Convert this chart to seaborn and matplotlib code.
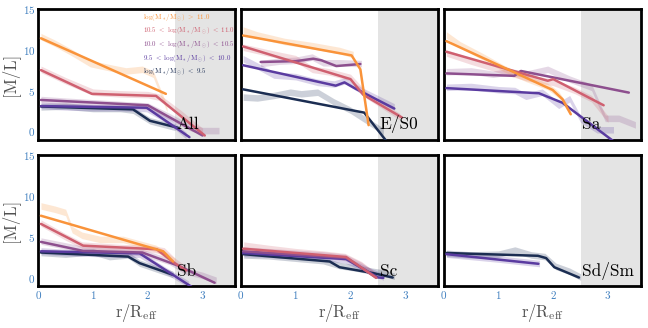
import numpy as np
import pandas as pd
import matplotlib
matplotlib.use("Agg")
from matplotlib import pyplot as plt
import seaborn as sns

sns.set_theme(style="white")
plt.rcParams["font.family"] = ["cmr10", "DejaVu Serif"]
plt.rcParams["mathtext.fontset"] = "cm"
plt.rcParams["axes.formatter.use_mathtext"] = True

# mass bins: 0 >11.0, 1 10.5-11.0, 2 10.0-10.5, 3 9.5-10.0, 4 <9.5
bin_labels = [r"$\mathrm{log(M_*/M_\odot)\ >\ 11.0}$",
              r"$\mathrm{10.5\ <\ log(M_*/M_\odot)\ <\ 11.0}$",
              r"$\mathrm{10.0\ <\ log(M_*/M_\odot)\ <\ 10.5}$",
              r"$\mathrm{9.5\ <\ log(M_*/M_\odot)\ <\ 10.0}$",
              r"$\mathrm{log(M_*/M_\odot)\ <\ 9.5}$"]
colors = ["#f9933a", "#cf6070", "#8d4f8e", "#5a3ba0", "#1b2d52"]

panel_names = ["All", "E/S0", "Sa", "Sb", "Sc", "Sd/Sm"]

# fitted profiles {bin: (r, M/L)}
fit_all = {0: ([0.05, 2.33], [11.4, 4.6]),
           1: ([0.05, 0.98, 2.15, 3.04], [7.5, 4.6, 4.35, -0.5]),
           2: ([0.05, 2.0, 3.0], [3.85, 3.2, -0.5]),
           3: ([0.05, 1.98, 2.76], [3.1, 2.9, -0.7]),
           4: ([0.05, 1.73, 2.04, 2.55], [3.05, 2.7, 1.3, 0.45])}
fit_es0 = {0: ([0.04, 2.02, 2.18, 2.33], [11.74, 9.3, 7.6, 0.77]),
           1: ([0.04, 2.0, 2.23, 2.94], [10.4, 6.4, 4.5, 1.7]),
           2: ([0.36, 1.0, 1.32, 1.47, 1.74, 2.18], [8.5, 8.6, 8.9, 8.7, 8.0, 8.25]),
           3: ([0.04, 1.73, 1.89, 2.1, 2.8], [8.1, 5.6, 6.0, 5.2, 2.8]),
           4: ([0.04, 2.25, 2.75], [5.15, 2.3, -2.0])}
fit_sa = {0: ([0.05, 1.99, 2.17, 2.32], [11.05, 5.07, 3.94, 2.1]),
          1: ([0.05, 1.9, 2.0, 2.92], [9.75, 6.2, 6.4, 3.2]),
          2: ([0.05, 1.29, 1.41, 3.38], [7.1, 6.8, 7.4, 4.75]),
          3: ([0.05, 1.74, 2.17, 3.1], [5.3, 4.67, 3.5, -1.2])}
fit_sb = {0: ([0.05, 2.28, 2.46], [7.6, 3.25, 2.0]),
          1: ([0.05, 0.82, 2.16, 2.49, 2.7], [6.6, 3.94, 3.5, 1.8, 0.9]),
          2: ([0.05, 0.82, 1.9, 2.55, 3.22], [4.4, 3.3, 3.1, 1.5, -0.6]),
          3: ([0.05, 1.85, 2.8], [3.25, 3.0, -1.1]),
          4: ([0.05, 1.64, 1.85, 2.46], [3.1, 2.6, 1.8, 0.37])}
fit_sc = {1: ([0.04, 1.92, 2.47], [3.57, 2.55, 0.0]),
          2: ([0.04, 1.92, 2.47], [3.25, 2.45, 0.05]),
          3: ([0.04, 1.92, 2.5, 2.6], [3.04, 2.3, 0.05, 0.0]),
          4: ([0.04, 1.62, 1.8, 2.42, 2.77], [2.9, 2.0, 1.3, 0.57, 0.04])}
fit_sdsm = {3: ([0.05, 1.73], [2.9, 1.72]),
            4: ([0.05, 1.72, 1.87, 2.02, 2.47], [3.04, 2.7, 2.42, 1.3, 0.04])}

# measured profiles (shaded bands)
band_all = {0: ([0.05, 0.3, 0.6, 0.95, 1.3, 1.6, 1.9, 2.1, 2.25, 2.35], [11.6, 10.8, 9.7, 8.3, 7.8, 7.4, 7.6, 7.0, 4.5, 2.8]),
            1: ([0.05, 0.5, 1.0, 1.5, 2.0, 2.2, 2.6, 3.0], [7.6, 6.2, 4.8, 4.6, 4.5, 4.2, 2.2, 0.0]),
            2: ([0.05, 0.5, 1.0, 1.5, 2.0, 2.4, 2.8, 3.0, 3.3], [3.9, 3.7, 3.5, 3.3, 3.1, 1.8, 0.4, 0.1, 0.1]),
            3: ([0.05, 0.5, 1.0, 1.5, 1.98, 2.4, 2.7], [3.2, 3.0, 2.9, 2.9, 2.8, 1.2, -0.5]),
            4: ([0.05, 0.5, 1.0, 1.5, 1.73, 2.04, 2.5], [3.0, 3.1, 2.8, 2.8, 2.6, 1.3, 0.5])}
band_es0 = {0: ([0.04, 0.3, 0.8, 1.3, 1.8, 2.05], [12.4, 11.8, 11.0, 10.5, 9.9, 9.4]),
            1: ([0.04, 0.5, 1.0, 1.3, 1.6, 2.0, 2.3, 2.9], [10.3, 9.6, 8.9, 7.6, 7.3, 6.6, 4.4, 1.8]),
            2: ([0.36, 0.7, 1.0, 1.3, 1.5, 1.8, 2.2], [8.3, 8.6, 8.7, 9.1, 8.4, 8.4, 8.3]),
            3: ([0.04, 0.3, 0.6, 1.0, 1.4, 1.7, 1.9, 2.2, 2.5, 2.8], [8.9, 8.0, 6.9, 6.7, 6.0, 5.8, 6.2, 5.0, 4.0, 3.0]),
            4: ([0.04, 0.3, 0.6, 0.9, 1.1, 1.4, 1.7, 2.0, 2.3, 2.6], [4.2, 4.1, 4.4, 4.8, 4.6, 4.8, 3.6, 2.6, 1.3, 0.0])}
band_sa = {0: ([0.05, 0.3, 0.7, 1.1, 1.5, 1.9, 2.1, 2.3], [11.8, 10.6, 9.2, 7.7, 6.5, 5.5, 4.5, 2.5]),
           1: ([0.05, 0.5, 1.0, 1.5, 2.0, 2.4, 2.7, 3.0], [9.6, 8.6, 7.6, 6.6, 6.0, 5.0, 4.0, 1.5]),
           2: ([0.05, 0.5, 0.9, 1.2, 1.5, 1.9, 2.3, 2.7, 2.95, 3.2, 3.5], [7.3, 7.4, 7.0, 7.3, 7.0, 7.6, 6.4, 5.4, 1.6, 1.6, 0.8]),
           3: ([0.05, 0.5, 1.0, 1.3, 1.5, 1.8, 2.1, 2.3, 2.5, 2.8, 3.1], [5.4, 5.5, 5.1, 5.0, 4.3, 4.8, 3.2, 4.0, 1.5, 0.2, 0.2])}
band_sb = {0: ([0.05, 0.3, 0.5, 0.62, 0.8, 1.13, 1.55, 2.15, 2.5], [8.8, 8.4, 8.0, 5.9, 5.2, 4.7, 4.7, 3.6, 2.0]),
           1: ([0.05, 0.5, 0.8, 1.5, 2.0, 2.3, 2.5, 2.7], [6.7, 5.0, 4.0, 3.7, 3.6, 3.3, 2.0, 1.0]),
           2: ([0.05, 0.8, 1.4, 1.9, 2.4, 2.7, 3.0, 3.25], [4.5, 3.5, 3.3, 3.1, 2.0, 0.8, 0.3, -0.3]),
           3: ([0.05, 0.5, 1.0, 1.5, 1.85, 2.3, 2.75], [3.3, 3.1, 3.0, 2.9, 2.9, 1.0, -0.8]),
           4: ([0.05, 0.5, 1.0, 1.3, 1.64, 1.85, 2.46], [3.1, 2.9, 3.2, 2.6, 2.8, 1.8, 0.4])}
band_sc = {1: ([0.05, 0.5, 1.0, 1.5, 1.9, 2.2, 2.45], [4.0, 3.6, 3.2, 2.9, 2.6, 1.6, 0.3]),
           2: ([0.05, 0.5, 1.0, 1.5, 1.9, 2.2, 2.45], [3.4, 3.2, 3.0, 2.8, 2.5, 1.5, 0.3]),
           3: ([0.05, 0.5, 1.0, 1.5, 1.9, 2.3, 2.6], [3.0, 2.9, 2.7, 2.5, 2.2, 1.0, 0.1]),
           4: ([0.05, 0.5, 1.0, 1.5, 1.8, 2.1, 2.4, 2.6, 2.8], [2.8, 2.7, 2.4, 2.1, 1.5, 1.2, 0.8, 0.6, 0.2])}
band_sdsm = {3: ([0.05, 1.0, 1.75], [2.9, 2.3, 1.75]),
             4: ([0.05, 0.5, 1.0, 1.3, 1.6, 1.85, 2.05, 2.3, 2.5], [3.0, 2.8, 2.9, 3.4, 2.8, 2.6, 1.4, 0.8, 0.1])}

fits = [fit_all, fit_es0, fit_sa, fit_sb, fit_sc, fit_sdsm]
bands = [band_all, band_es0, band_sa, band_sb, band_sc, band_sdsm]

fig, axes = plt.subplots(2, 3, sharex=True, sharey=True, figsize=(6.48, 3.28), dpi=100)
fig.subplots_adjust(left=0.059, right=0.989, top=0.973, bottom=0.128, wspace=0.028, hspace=0.12)

for i, ax in enumerate(axes.flat):
    ax.axvspan(2.5, 3.6, color="#e4e4e4", lw=0, zorder=0)
    for b in sorted(bands[i].keys(), reverse=True):
        r, ml = bands[i][b]
        ml = np.array(ml)
        ax.fill_between(r, ml - 0.4, ml + 0.4, color=colors[b], alpha=0.22, lw=0, zorder=1)
    for b in sorted(fits[i].keys(), reverse=True):
        r, ml = fits[i][b]
        sns.lineplot(x=r, y=ml, ax=ax, color=colors[b], lw=1.8, sort=False,
                     estimator=None, zorder=3)
    ax.text(2.53, 0.85, panel_names[i], fontsize=12.5, va="center", ha="left",
            color="black", zorder=5)
    ax.set_xlim(0, 3.6)
    ax.set_ylim(-1, 15)
    ax.set_xticks([0, 1, 2, 3])
    ax.set_yticks([0, 5, 10, 15])
    ax.tick_params(direction="in", length=4, width=1, labelsize=8,
                   labelcolor="#3f7fbf", pad=2)
    for s in ax.spines.values():
        s.set_linewidth(2.0)
        s.set_color("black")
    ax.set_xlabel("")
    ax.set_ylabel("")
    if i % 3 == 0:
        ax.set_ylabel("[M/L]", fontsize=12, color="#505050", labelpad=3)
    if i >= 3:
        ax.set_xlabel(r"$\mathrm{r/R_{eff}}$", fontsize=12, color="#505050", labelpad=1)

for k, lab in enumerate(bin_labels):
    axes[0, 0].text(0.53, 0.936 - 0.104 * k, lab, transform=axes[0, 0].transAxes,
                    fontsize=5.0, color=colors[k], va="center", ha="left", zorder=6)

plt.savefig("out.png", dpi=100)
plt.close()
